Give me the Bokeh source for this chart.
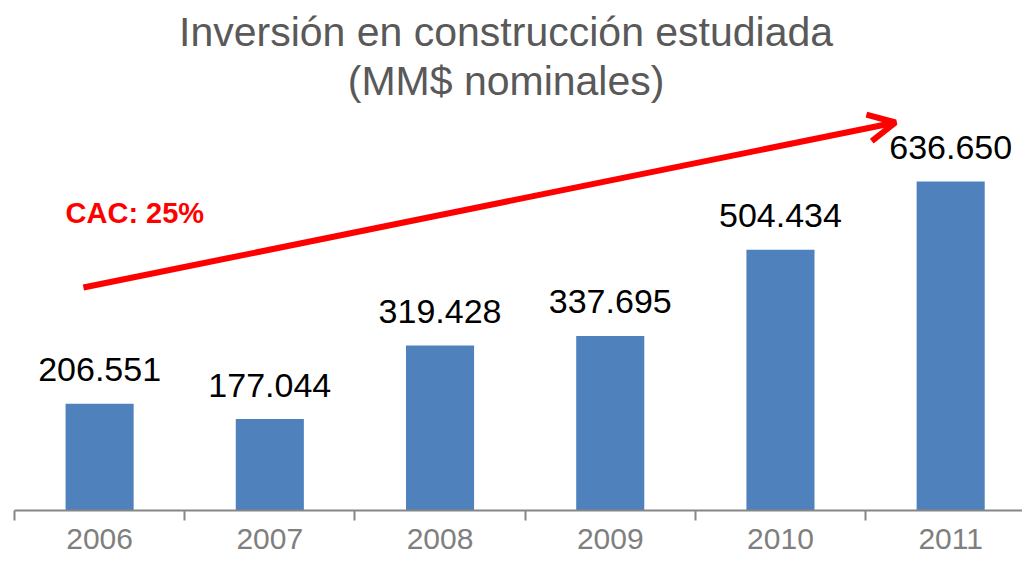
from bokeh.plotting import figure
from bokeh.models import Range1d, FixedTicker, LinearAxis, Label, Arrow, OpenHead, ColumnDataSource
from bokeh.core.properties import value
from bokeh.embed import file_html
from bokeh.resources import INLINE

# ---- data ----
years = ["2006", "2007", "2008", "2009", "2010", "2011"]
investment = [206551, 177044, 319428, 337695, 504434, 636650]  # MM$ nominales
cagr_label = "CAC: 25%"
title_line1 = "Inversión en construcción estudiada"
title_line2 = "(MM$ nominales)"

FONT = "Liberation Sans"
BLUE = "#4F81BD"
GRAY_AXIS = "#868686"
GRAY_TEXT = "#7F7F7F"
TITLE_COLOR = "#595959"

n = len(years)
centers = [i + 0.5 for i in range(n)]
labels = [f"{v:,}".replace(",", ".") for v in investment]

src = ColumnDataSource(dict(x=centers, top=investment, label=labels))

Y_MAX = 971400
X_MAX = 5.922

p = figure(width=1022, height=558, output_backend="svg", toolbar_location=None,
           x_range=Range1d(0, X_MAX), y_range=Range1d(0, Y_MAX),
           x_axis_type=None, y_axis_type=None,
           min_border_left=14, min_border_right=0, min_border_top=8, min_border_bottom=48)
p.outline_line_color = None
p.xgrid.visible = False
p.ygrid.visible = False
p.background_fill_color = "white"
p.border_fill_color = "white"

p.vbar(x="x", top="top", width=0.4, bottom=0, source=src,
       fill_color=BLUE, line_color=None)

p.text(x="x", y="top", text="label", source=src, y_offset=-34,
       text_align="center", text_baseline="alphabetic",
       text_font=value(FONT), text_font_size="34px", text_color="black")

xaxis = LinearAxis(ticker=FixedTicker(ticks=centers, minor_ticks=list(range(n + 1))))
xaxis.major_label_overrides = {c: y for c, y in zip(centers, years)}
xaxis.major_tick_in = 0
xaxis.major_tick_out = 0
xaxis.minor_tick_in = 0
xaxis.minor_tick_out = 10
xaxis.minor_tick_line_color = GRAY_AXIS
xaxis.minor_tick_line_width = 2
xaxis.axis_line_color = GRAY_AXIS
xaxis.axis_line_width = 2
xaxis.major_label_text_font = FONT
xaxis.major_label_text_font_size = "30px"
xaxis.major_label_text_color = GRAY_TEXT
xaxis.major_label_standoff = 8
p.add_layout(xaxis, "below")

# growth arrow and label
p.add_layout(Arrow(end=OpenHead(size=27, line_color="red", line_width=6),
                   x_start=0.405, y_start=431500, x_end=5.176, y_end=750800,
                   line_color="red", line_width=6))
p.add_layout(Label(x=0.30, y=576600, text=cagr_label, text_font=FONT,
                   text_font_size="29px", text_font_style="bold", text_color="red",
                   text_align="left", text_baseline="alphabetic"))

# title
p.add_layout(Label(x=2.888, y=925000, text=title_line1, text_font=FONT,
                   text_font_size="41px", text_color=TITLE_COLOR,
                   text_align="center", text_baseline="alphabetic"))
p.add_layout(Label(x=2.888, y=832000, text=title_line2, text_font=FONT,
                   text_font_size="41px", text_color=TITLE_COLOR,
                   text_align="center", text_baseline="alphabetic"))

open("out.html", "w").write(file_html(p, INLINE))
